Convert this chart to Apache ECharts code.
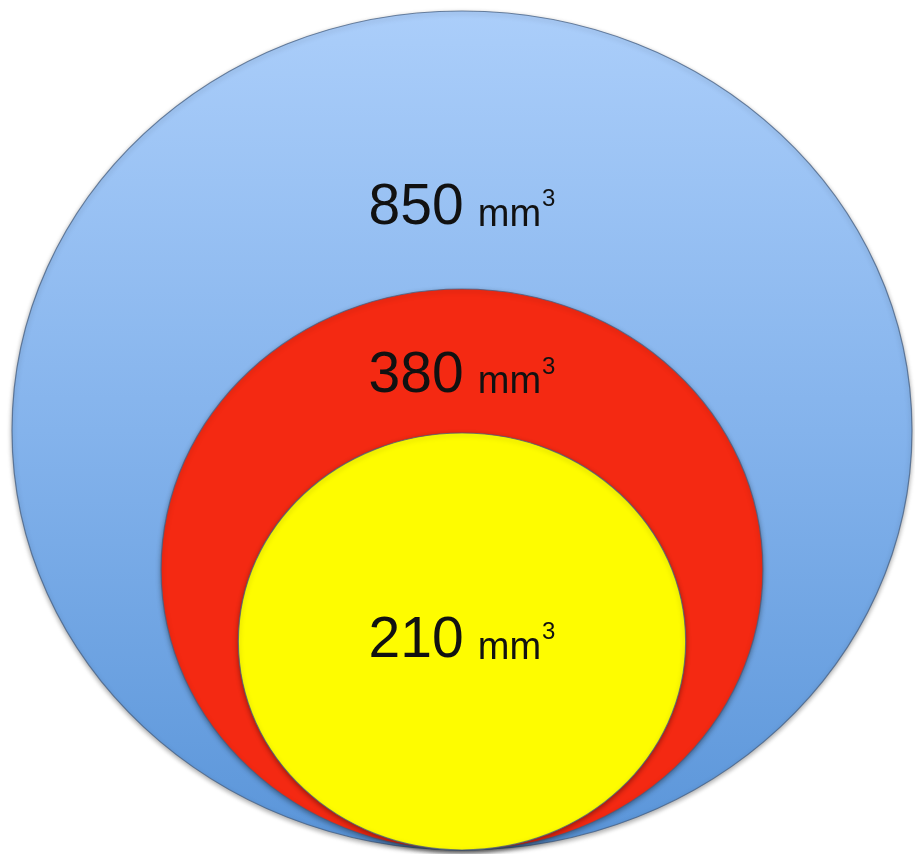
<!DOCTYPE html>
<html>
<head>
<meta charset="utf-8">
<script src="https://cdn.jsdelivr.net/npm/echarts@6/dist/echarts.min.js"></script>
<style>
html, body { margin: 0; padding: 0; background: #fff; }
#main { width: 915px; height: 854px; }
</style>
</head>
<body>
<div id="main"></div>
<script>
// volumes, outer to inner
var circle_names = ['outer', 'middle', 'inner'];
var volumes = [850, 380, 210];
var unit_base = 'mm';
var unit_power = '3';

// styles (kept apart from the data)
var fills = [
    new echarts.graphic.LinearGradient(0, 0, 0, 1, [
        { offset: 0, color: '#abcefa' },
        { offset: 0.5, color: '#84b3ec' },
        { offset: 1, color: '#5a95d9' }
    ]),
    '#f42912',
    '#fefc00'
];
var label_drop = [0.47, 0.31, 1.0]; // label position, as share of the vertical radius from the top

var chart = echarts.init(document.getElementById('main'));
var max_vol = Math.max.apply(null, volumes);

// circles sit on the baseline, radius by area
var circle_data = volumes.map(function (v, i) {
    var r = Math.sqrt(v / max_vol);
    return { name: circle_names[i], value: [0, r, r, v] };
});

var option = {
    animation: false,
    grid: { left: 12, right: 3, top: 11, bottom: 4, containLabel: false },
    xAxis: { type: 'value', min: -1, max: 1, show: false },
    yAxis: { type: 'value', min: 0, max: 2, show: false },
    series: [{
        type: 'custom',
        coordinateSystem: 'cartesian2d',
        data: circle_data,
        renderItem: function (params, api) {
            var i = params.dataIndex;
            var c = api.coord([api.value(0), api.value(1)]);
            var s = api.size([api.value(2), api.value(2)]);
            return {
                type: 'group',
                children: [{
                    type: 'ellipse',
                    shape: { cx: c[0], cy: c[1], rx: s[0], ry: s[1] },
                    style: {
                        fill: fills[i],
                        stroke: 'rgba(70,95,130,0.75)',
                        lineWidth: 1.2,
                        shadowBlur: 5,
                        shadowOffsetY: 2,
                        shadowColor: 'rgba(0,0,0,0.35)'
                    }
                }, {
                    type: 'text',
                    x: c[0],
                    y: c[1] - s[1] + label_drop[i] * s[1],
                    style: {
                        text: '{n|' + api.value(3) + '}{u|' + unit_base + '}{s|' + unit_power + '}',
                        align: 'center',
                        verticalAlign: 'middle',
                        rich: {
                            n: { fontFamily: 'Liberation Sans', fontSize: 57, fill: '#111' },
                            u: { fontFamily: 'Liberation Sans', fontSize: 38, fill: '#111', padding: [14, 0, 0, 14] },
                            s: { fontFamily: 'Liberation Sans', fontSize: 24, fill: '#111', padding: [0, 0, 18, 1] }
                        }
                    }
                }]
            };
        }
    }]
};

chart.setOption(option);
</script>
</body>
</html>
